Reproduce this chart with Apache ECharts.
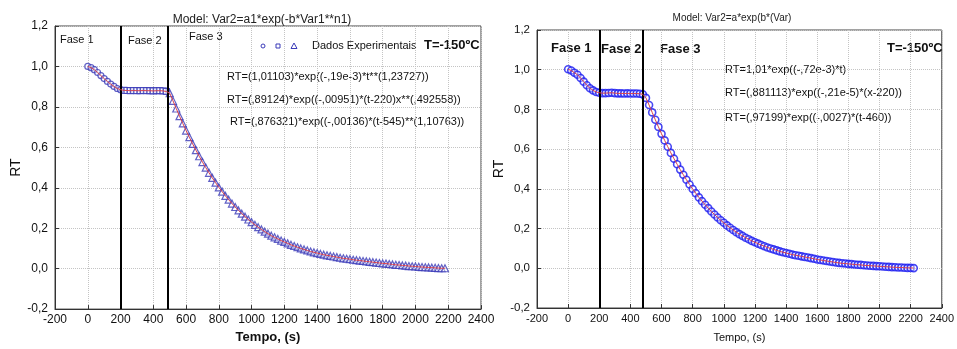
<!DOCTYPE html>
<html>
<head>
<meta charset="utf-8">
<script src="https://cdn.jsdelivr.net/npm/echarts@6/dist/echarts.min.js"></script>
<style>
  html, body { margin: 0; padding: 0; background: #fff; }
  #chart { width: 957px; height: 349px; }
</style>
</head>
<body>
<div id="chart"></div>
<script>
// tempo (s), amostras a cada 20 s
const timeRight = [
  0, 20, 40, 60, 80, 100, 120, 140, 160, 180, 200, 220,
  240, 260, 280, 300, 320, 340, 360, 380, 400, 420, 440, 460, 480,
  500, 520, 540, 560, 580, 600, 620, 640, 660, 680,
  700, 720, 740, 760, 780, 800, 820, 840, 860, 880,
  900, 920, 940, 960, 980, 1000, 1020, 1040, 1060, 1080,
  1100, 1120, 1140, 1160, 1180, 1200, 1220, 1240, 1260, 1280,
  1300, 1320, 1340, 1360, 1380, 1400, 1420, 1440, 1460, 1480,
  1500, 1520, 1540, 1560, 1580, 1600, 1620, 1640, 1660, 1680,
  1700, 1720, 1740, 1760, 1780, 1800, 1820, 1840, 1860, 1880,
  1900, 1920, 1940, 1960, 1980, 2000, 2020, 2040, 2060, 2080,
  2100, 2120, 2140, 2160, 2180, 2200, 2220
];
const timeLeft = timeRight.slice(0, 110); // left run stops at 2180 s

const rtLeft = [
  1.000, 0.994, 0.984, 0.970, 0.955, 0.940, 0.926, 0.913, 0.901, 0.891, 0.885, 0.882,
  0.881, 0.880, 0.881, 0.880, 0.880, 0.881, 0.880, 0.880, 0.879, 0.880, 0.880, 0.879, 0.876,
  0.868, 0.830, 0.792, 0.754, 0.718, 0.683, 0.650, 0.617, 0.586, 0.556,
  0.527, 0.500, 0.474, 0.449, 0.425, 0.402, 0.381, 0.360, 0.341, 0.322,
  0.305, 0.288, 0.272, 0.257, 0.243, 0.230, 0.217, 0.205, 0.194, 0.183,
  0.173, 0.163, 0.155, 0.147, 0.139, 0.132, 0.125, 0.118, 0.112, 0.106,
  0.100, 0.095, 0.090, 0.085, 0.081, 0.077, 0.073, 0.069, 0.066, 0.063,
  0.060, 0.057, 0.054, 0.051, 0.049, 0.047, 0.044, 0.042, 0.040, 0.038,
  0.036, 0.034, 0.032, 0.030, 0.028, 0.026, 0.025, 0.023, 0.021, 0.019,
  0.018, 0.016, 0.015, 0.013, 0.012, 0.011, 0.009, 0.008, 0.007, 0.006,
  0.005, 0.004, 0.003, 0.002, 0.002
];

const rtRight = [
  1.002, 0.996, 0.985, 0.975, 0.958, 0.940, 0.922, 0.907, 0.896, 0.888, 0.884, 0.882,
  0.882, 0.883, 0.884, 0.882, 0.881, 0.881, 0.880, 0.881, 0.880, 0.880, 0.880, 0.879, 0.876,
  0.858, 0.822, 0.785, 0.748, 0.712, 0.677, 0.644, 0.612, 0.581, 0.552,
  0.524, 0.497, 0.471, 0.446, 0.422, 0.399, 0.378, 0.357, 0.338, 0.320,
  0.303, 0.286, 0.271, 0.256, 0.242, 0.229, 0.216, 0.204, 0.193, 0.182,
  0.172, 0.163, 0.154, 0.146, 0.138, 0.131, 0.124, 0.117, 0.111, 0.105,
  0.100, 0.095, 0.090, 0.085, 0.081, 0.077, 0.073, 0.069, 0.066, 0.063,
  0.060, 0.057, 0.054, 0.051, 0.048, 0.044, 0.042, 0.039, 0.037, 0.034,
  0.032, 0.029, 0.027, 0.025, 0.024, 0.022, 0.021, 0.019, 0.018, 0.017,
  0.015, 0.014, 0.013, 0.012, 0.011, 0.010, 0.009, 0.008, 0.007, 0.006,
  0.005, 0.004, 0.004, 0.003, 0.002, 0.002, 0.001
];

const phaseBoundsLeft = [200, 490];
const phaseBoundsRight = [200, 480];

const eqLeft = [
  "RT=(1,01103)*exp((-,19e-3)*t**(1,23727))",
  "RT=(,89124)*exp((-,00951)*(t-220)x**(,492558))",
  "RT=(,876321)*exp((-,00136)*(t-545)**(1,10763))"
];
const eqRight = [
  "RT=1,01*exp((-,72e-3)*t)",
  "RT=(,881113)*exp((-,21e-5)*(x-220))",
  "RT=(,97199)*exp((-,0027)*(t-460))"
];

const font = "Liberation Sans, Arial, sans-serif";
const blueL = "#3a3ab8";
const blueR = "#1a1af0";
const red = "#d9404a";

const pairs = (ts, vs) => ts.map((t, i) => [t, vs[i]]);
const ptsL = pairs(timeLeft, rtLeft);
const ptsR = pairs(timeRight, rtRight);

const fmtY = (v) => (Math.round(v * 10) / 10).toFixed(1).replace(".", ",");
const fmtX = (v) => String(Math.round(v));

const makeX = (gi, fs, nameFs, nameGap, bold) => ({
  gridIndex: gi, type: "value", min: -200, max: 2400, interval: 200,
  name: "Tempo, (s)", nameLocation: "middle", nameGap: nameGap,
  nameTextStyle: { color: "#111", fontSize: nameFs, fontFamily: font, fontWeight: bold ? "bold" : "normal" },
  axisLine: { show: true, onZero: false, lineStyle: { color: "#333" } },
  axisTick: { show: true, inside: true, length: 4, lineStyle: { color: "#333" } },
  axisLabel: { color: "#111", fontSize: fs, fontFamily: font, margin: 5, formatter: fmtX },
  splitLine: { show: true, lineStyle: { type: "dotted", color: "#c4c4c4" } }
});
const makeY = (gi, fs, nameGap) => ({
  gridIndex: gi, type: "value", min: -0.2, max: 1.2, interval: 0.2,
  name: "RT", nameLocation: "middle", nameGap: nameGap,
  nameTextStyle: { color: "#111", fontSize: 14, fontFamily: font },
  axisLine: { show: true, onZero: false, lineStyle: { color: "#333" } },
  axisTick: { show: true, inside: true, length: 4, lineStyle: { color: "#333" } },
  axisLabel: { color: "#111", fontSize: fs, fontFamily: font, margin: 7, formatter: fmtY },
  splitLine: { show: true, lineStyle: { type: "dotted", color: "#c4c4c4" } }
});

const hollow = (color, bw) => ({ color: "rgba(255,255,255,0.5)", borderColor: color, borderWidth: bw });

const vlines = (bounds) => ({
  silent: true, symbol: "none", label: { show: false },
  lineStyle: { color: "#000", width: 2, type: "solid" },
  data: bounds.map((b) => ({ xAxis: b }))
});

const text = (x, y, str, size, bold) => ({
  type: "text", left: x, top: y,
  style: { text: str, fill: "#111", font: (bold ? "bold " : "") + size + "px " + font }
});

const option = {
  animation: false,
  title: [
    { text: "Model: Var2=a1*exp(-b*Var1**n1)", left: 257, top: 9, textAlign: "center",
      textStyle: { fontSize: 12, fontWeight: "normal", color: "#222", fontFamily: font } },
    { text: "Model: Var2=a*exp(b*(Var)", left: 727, top: 8, textAlign: "center",
      textStyle: { fontSize: 10, fontWeight: "normal", color: "#222", fontFamily: font } }
  ],
  grid: [
    { left: 55, top: 26, width: 426, height: 285, show: true, borderColor: "#444", borderWidth: 1 },
    { left: 537, top: 30, width: 409, height: 278, show: true, borderColor: "#444", borderWidth: 1 }
  ],
  xAxis: [makeX(0, 12, 13, 21, true), makeX(1, 11, 11, 24, false)],
  yAxis: [makeY(0, 12, 32), makeY(1, 11.5, 30)],
  series: [
    { type: "scatter", xAxisIndex: 0, yAxisIndex: 0, symbol: "circle", symbolSize: 6,
      itemStyle: hollow(blueL, 1.2), data: ptsL.filter((p) => p[0] <= 200), markLine: vlines(phaseBoundsLeft) },
    { type: "scatter", xAxisIndex: 0, yAxisIndex: 0, symbol: "rect", symbolSize: 6,
      itemStyle: hollow(blueL, 1.2), data: ptsL.filter((p) => p[0] > 200 && p[0] < 490) },
    { type: "scatter", xAxisIndex: 0, yAxisIndex: 0, symbol: "triangle", symbolSize: 7,
      itemStyle: hollow(blueL, 1.2), data: ptsL.filter((p) => p[0] >= 490) },
    { type: "line", xAxisIndex: 0, yAxisIndex: 0, showSymbol: false, z: 5,
      lineStyle: { color: red, width: 1 }, data: ptsL },
    { type: "scatter", xAxisIndex: 1, yAxisIndex: 1, symbol: "circle", symbolSize: 7,
      itemStyle: hollow(blueR, 1.6), data: ptsR, markLine: vlines(phaseBoundsRight) },
    { type: "line", xAxisIndex: 1, yAxisIndex: 1, showSymbol: false, z: 5,
      lineStyle: { color: red, width: 1 }, data: ptsR }
  ],
  graphic: [
    // left panel
    text(60, 34, "Fase 1", 11, false),
    text(128, 35, "Fase 2", 11, false),
    text(189, 31, "Fase 3", 11, false),
    { type: "circle", shape: { cx: 263, cy: 46, r: 2 }, style: { fill: "none", stroke: blueL, lineWidth: 1 } },
    { type: "rect", shape: { x: 276, y: 44, width: 4, height: 4 }, style: { fill: "none", stroke: blueL, lineWidth: 1 } },
    { type: "polygon", shape: { points: [[294, 43], [291, 48.5], [297, 48.5]] }, style: { fill: "none", stroke: blueL, lineWidth: 1 } },
    text(312, 40, "Dados Experimentais", 11, false),
    text(424, 39, "T=-150ºC", 13, true),
    text(227, 71, eqLeft[0], 11, false),
    text(227, 94, eqLeft[1], 11, false),
    text(230, 116, eqLeft[2], 11, false),
    // right panel
    text(551, 42, "Fase 1", 13, true),
    text(601, 43, "Fase 2", 13, true),
    text(660, 43, "Fase 3", 13, true),
    text(887, 42, "T=-150ºC", 13, true),
    text(725, 64, eqRight[0], 11, false),
    text(725, 87, eqRight[1], 11, false),
    text(725, 112, eqRight[2], 11, false)
  ]
};

const chart = echarts.init(document.getElementById("chart"));
chart.setOption(option);
</script>
</body>
</html>
